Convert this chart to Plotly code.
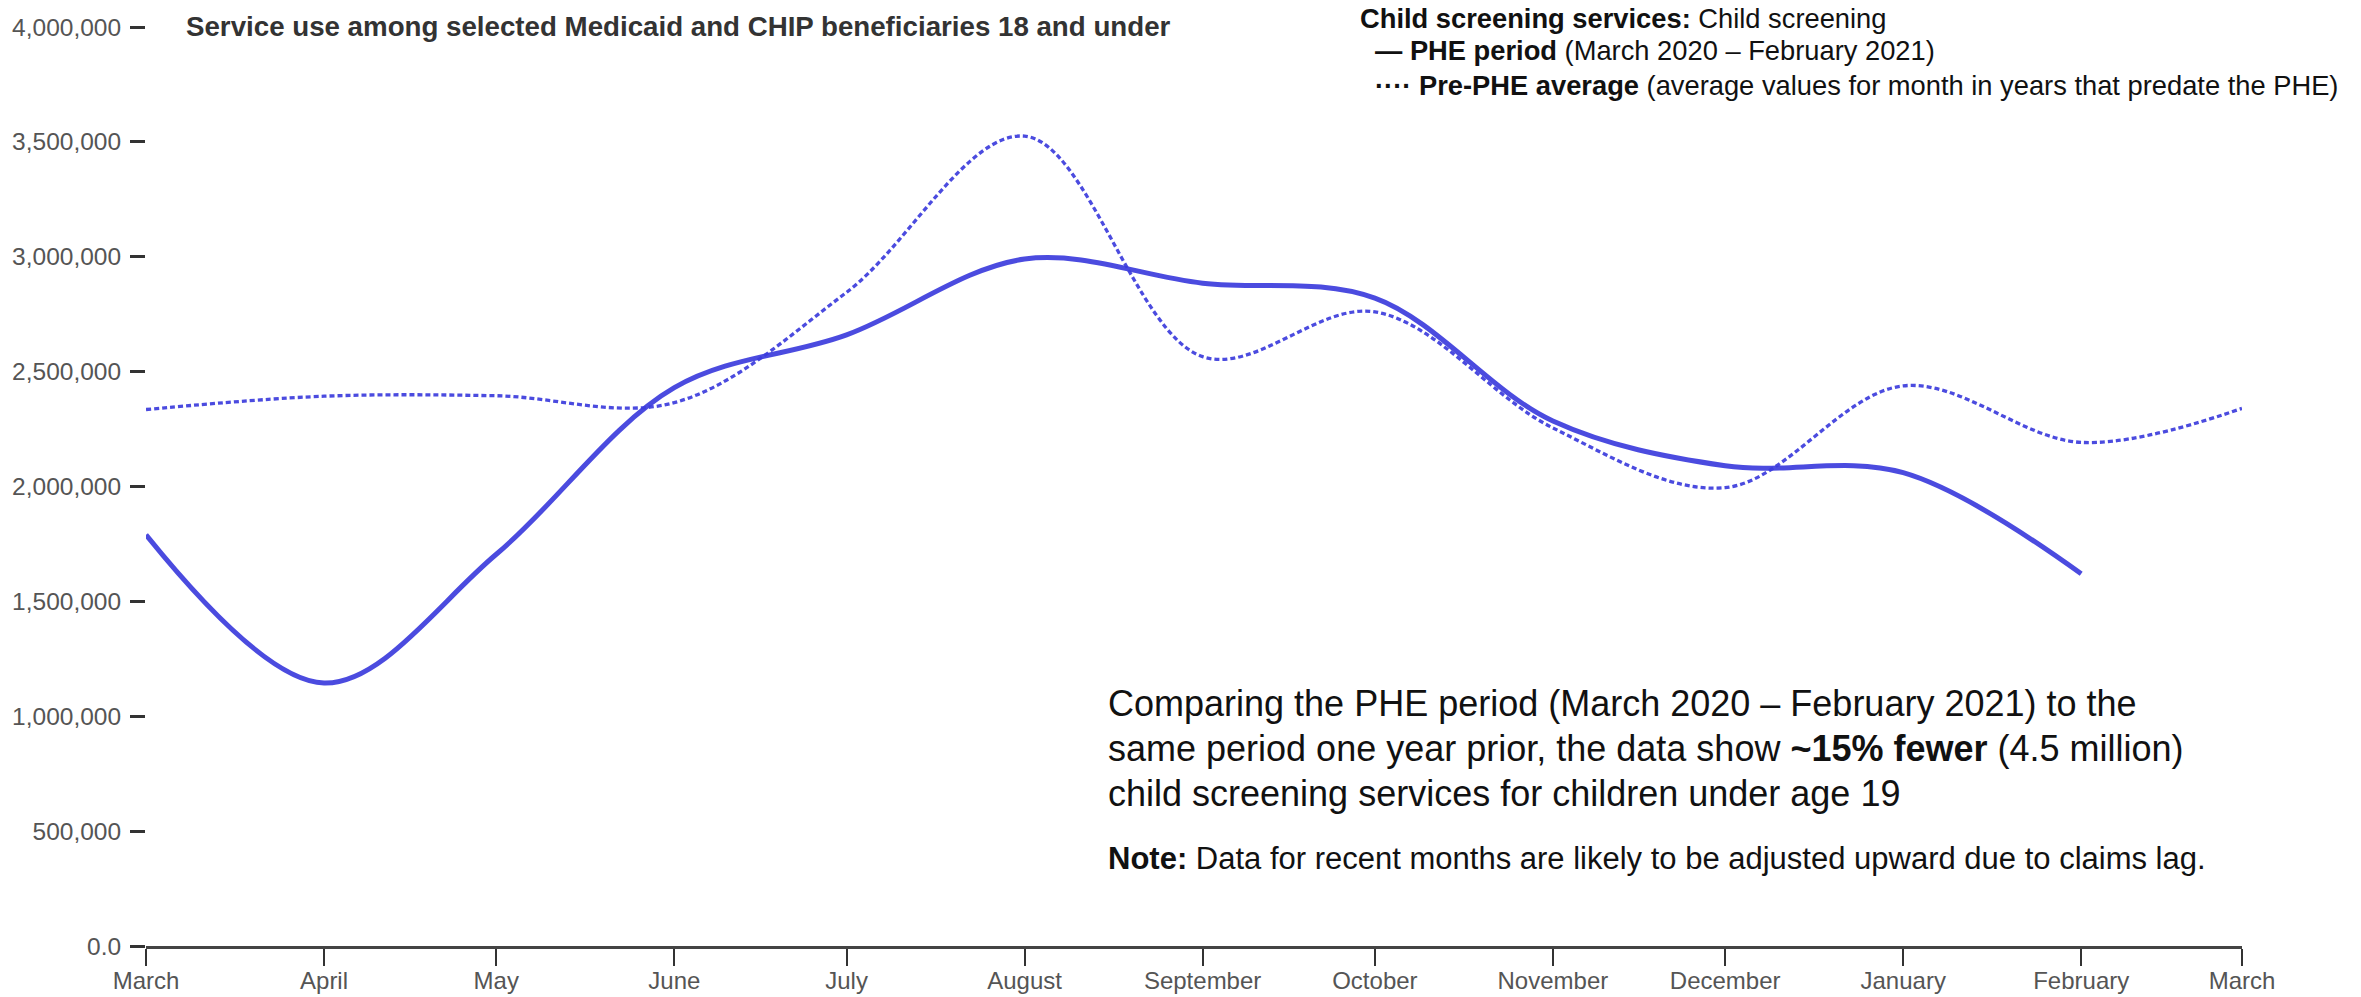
import plotly.graph_objects as go

# ---------------- data ----------------
months_phe = ["2020-03-01", "2020-04-01", "2020-05-01", "2020-06-01", "2020-07-01", "2020-08-01",
              "2020-09-01", "2020-10-01", "2020-11-01", "2020-12-01", "2021-01-01", "2021-02-01"]
phe_values = [1790000, 1145000, 1705000, 2430000, 2660000, 2990000,
              2885000, 2820000, 2285000, 2090000, 2060000, 1620000]

months_pre = ["2020-03-01", "2020-04-01", "2020-05-01", "2020-06-01", "2020-07-01", "2020-08-01",
              "2020-09-01", "2020-10-01", "2020-11-01", "2020-12-01", "2021-01-01", "2021-02-01",
              "2021-03-01"]
pre_values = [2335000, 2393000, 2395000, 2365000, 2845000, 3525000,
              2565000, 2760000, 2255000, 1995000, 2438000, 2192000, 2340000]

x_tick_labels = ["March", "April", "May", "June", "July", "August", "September",
                 "October", "November", "December", "January", "February", "March"]
y_tick_values = [0, 500000, 1000000, 1500000, 2000000, 2500000, 3000000, 3500000, 4000000]
y_tick_labels = ["0.0", "500,000", "1,000,000", "1,500,000", "2,000,000",
                 "2,500,000", "3,000,000", "3,500,000", "4,000,000"]

title_text = "<b>Service use among selected Medicaid and CHIP beneficiaries 18 and under</b>"
legend_lines = [
    "<b>Child screening services:</b> Child screening",
    "<b>—</b> <b>PHE period</b> (March 2020 – February 2021)",
    "<b>····</b> <b>Pre-PHE average</b> (average values for month in years that predate the PHE)",
]
note_lines = [
    "Comparing the PHE period (March 2020 – February 2021) to the",
    "same period one year prior, the data show <b>~15% fewer</b> (4.5 million)",
    "child screening services for children under age 19",
]
note_small = "<b>Note:</b> Data for recent months are likely to be adjusted upward due to claims lag."

# ---------------- figure ----------------
FONT = "Liberation Sans, Arial, sans-serif"
LINE_COLOR = "rgba(60, 60, 220, 0.92)"

fig = go.Figure()
fig.add_trace(go.Scatter(
    x=months_phe, y=phe_values, mode="lines",
    line=dict(color=LINE_COLOR, width=5, shape="spline", smoothing=1),
    hoverinfo="skip"))
fig.add_trace(go.Scatter(
    x=months_pre, y=pre_values, mode="lines",
    line=dict(color=LINE_COLOR, width=3.3, dash="5px,3px", shape="spline", smoothing=1),
    hoverinfo="skip"))

W, H = 2361, 997
ML, MR, MT, MB = 146, 119, 27, 51
PW, PH = W - ML - MR, H - MT - MB


def px_x(px):
    return (px - ML) / PW


def px_y(py):
    return (H - MB - py) / PH


annotations = [dict(text=title_text, x=px_x(184), y=px_y(26), xref="paper", yref="paper",
                    xanchor="left", yanchor="middle", showarrow=False,
                    font=dict(family=FONT, size=27.7, color="#333"))]
legend_pos = [(1358, 18), (1373, 51), (1373, 86)]
for txt, (ax, ay) in zip(legend_lines, legend_pos):
    annotations.append(dict(text=txt, x=px_x(ax), y=px_y(ay), xref="paper", yref="paper",
                            xanchor="left", yanchor="middle", showarrow=False,
                            font=dict(family=FONT, size=27.3, color="#111")))
note_pos = [703, 748, 793]
for txt, ay in zip(note_lines, note_pos):
    annotations.append(dict(text=txt, x=px_x(1106), y=px_y(ay), xref="paper", yref="paper",
                            xanchor="left", yanchor="middle", showarrow=False,
                            font=dict(family=FONT, size=36, color="#111")))
annotations.append(dict(text=note_small, x=px_x(1106), y=px_y(858), xref="paper", yref="paper",
                        xanchor="left", yanchor="middle", showarrow=False,
                        font=dict(family=FONT, size=31, color="#111")))

fig.update_layout(
    width=W, height=H,
    margin=dict(l=ML, r=MR, t=MT, b=MB, pad=0, autoexpand=False),
    paper_bgcolor="white", plot_bgcolor="white",
    showlegend=False,
    font=dict(family=FONT),
    xaxis=dict(type="date", range=["2020-03-01", "2021-03-01"],
               tickvals=months_pre, ticktext=x_tick_labels,
               ticks="outside", ticklen=17, tickwidth=2, tickcolor="#333",
               showline=True, linecolor="#444", linewidth=3,
               showgrid=False, zeroline=False, automargin=False,
               ticklabelstandoff=-6,
               tickfont=dict(family=FONT, size=24, color="#555")),
    yaxis=dict(range=[0, 4000000], tickvals=y_tick_values, ticktext=y_tick_labels,
               ticks="outside", ticklen=15, tickwidth=3, tickcolor="#333",
               showline=False, showgrid=False, zeroline=False, automargin=False,
               ticklabelstandoff=4,
               tickfont=dict(family=FONT, size=24.5, color="#555")),
    annotations=annotations,
)

fig.write_html("out.html", config={"displayModeBar": False},
               post_script="document.body.style.margin='0';document.body.style.overflow='hidden';")
